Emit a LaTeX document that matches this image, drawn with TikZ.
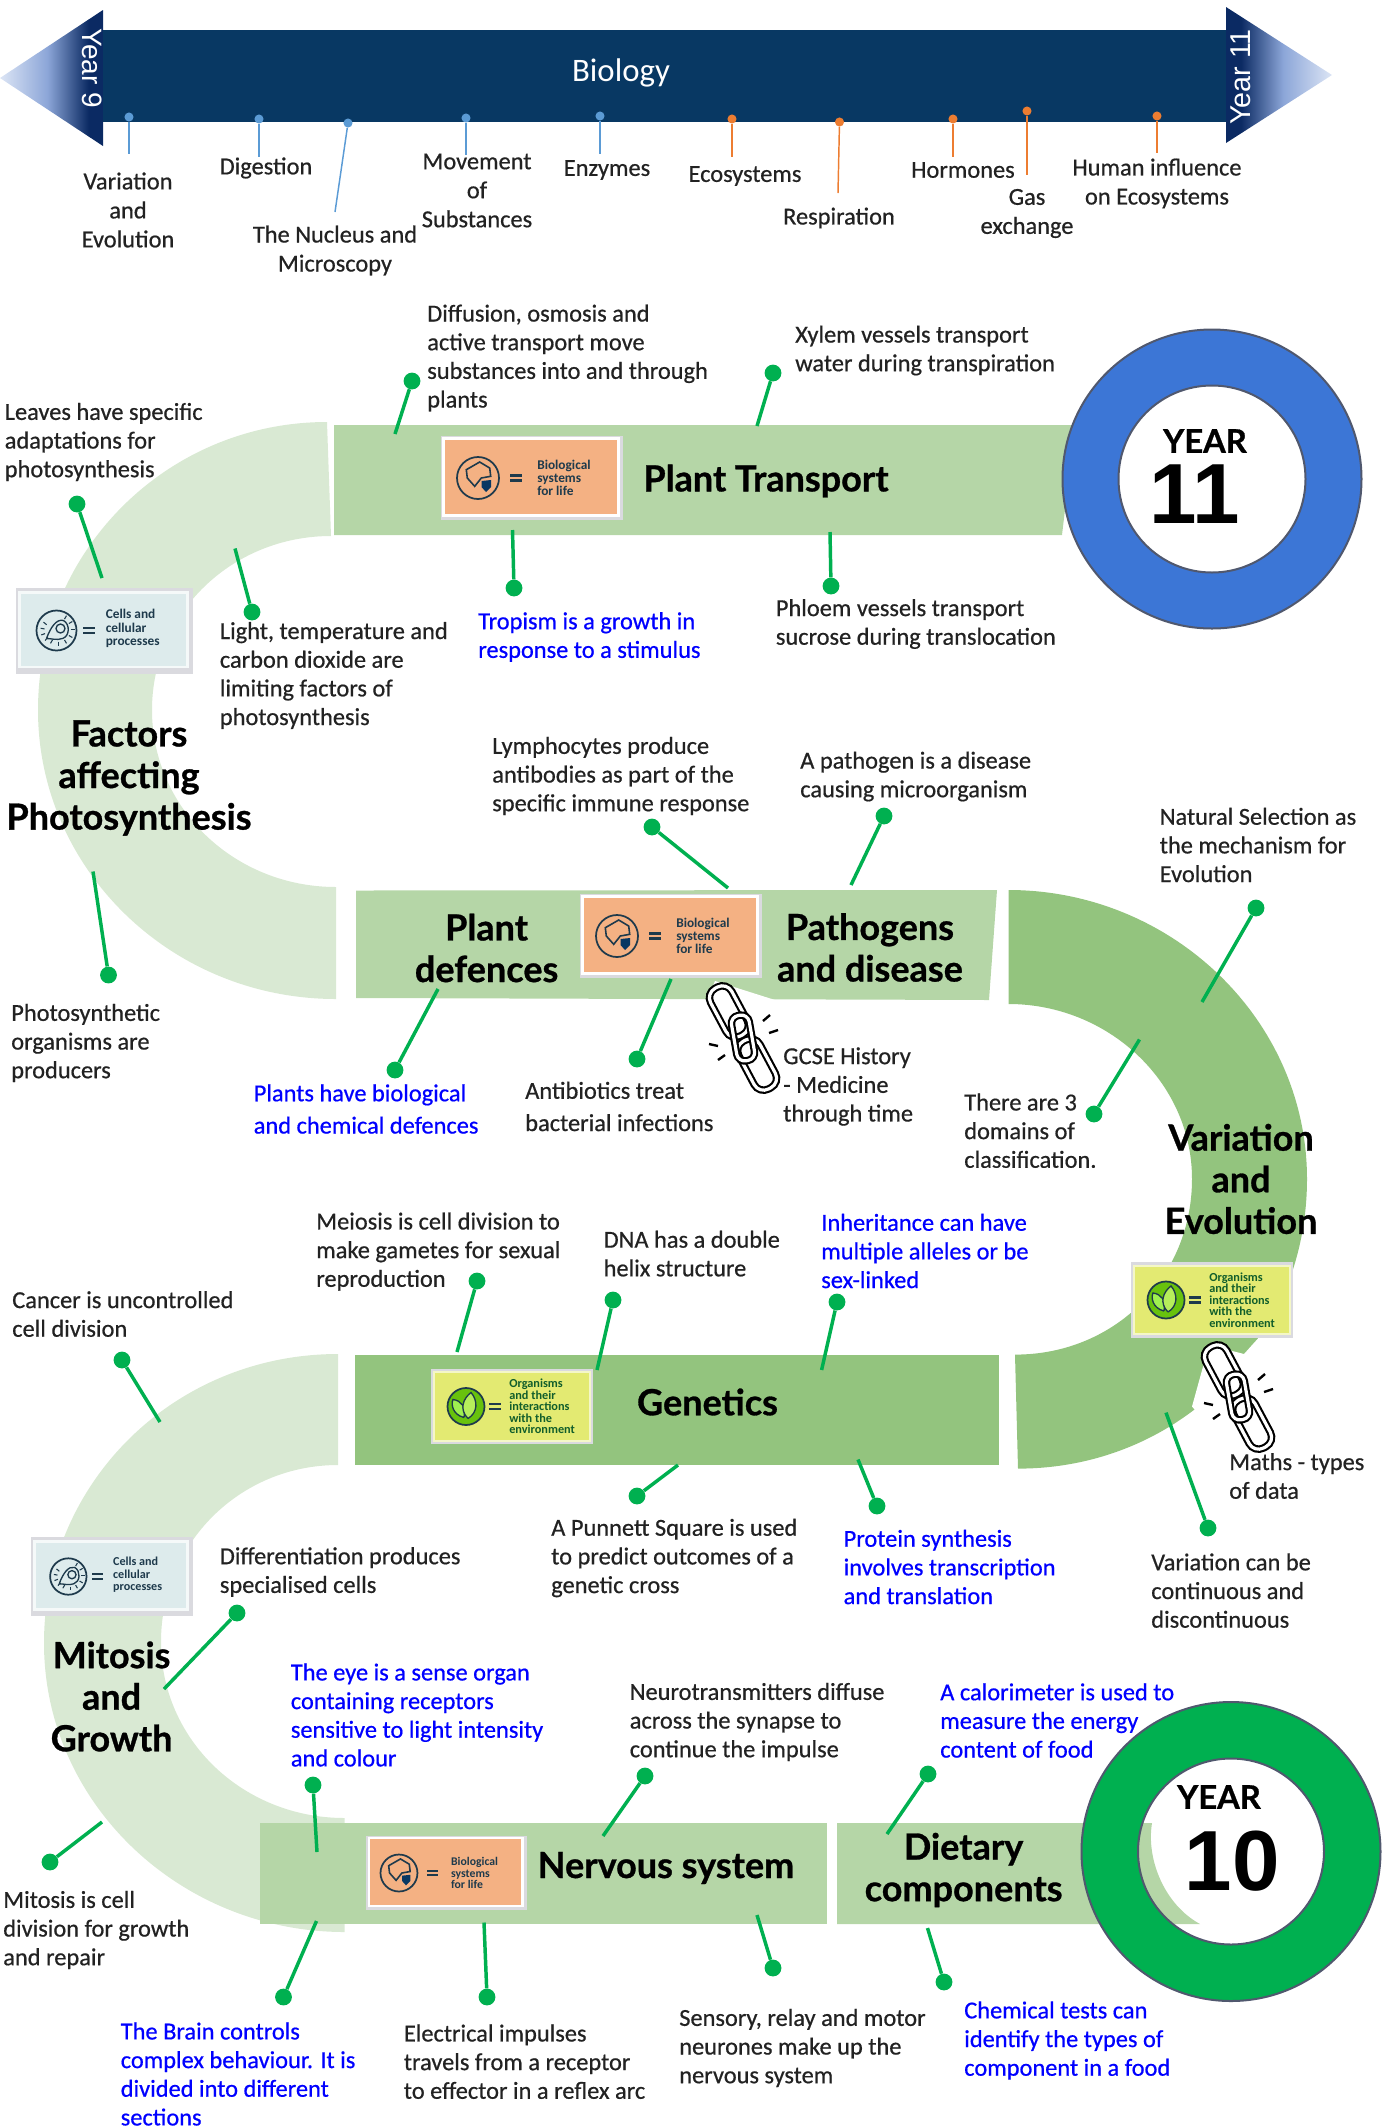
\documentclass[tikz,border=0pt]{standalone}
\usepackage{fontspec}
\setmainfont{Carlito}
\newfontfamily\semi{Carlito}[FakeBold=0.6]
\newfontfamily\headf{Lato Bold}[FakeBold=0.8]
\newfontfamily\arialf{Liberation Sans}
\newfontfamily\arialb{Liberation Sans Bold}
\usetikzlibrary{shapes.geometric}
\definecolor{navy}{HTML}{083863}
\definecolor{darkend}{HTML}{0B2A63}
\definecolor{pale}{HTML}{D9E9D3}
\definecolor{mid}{HTML}{B5D6A7}
\definecolor{deep}{HTML}{93C47E}
\definecolor{gcol}{HTML}{00B050}
\definecolor{bpin}{HTML}{5B9BD5}
\definecolor{opin}{HTML}{ED7D31}
\definecolor{ink}{HTML}{222222}
\definecolor{bluet}{HTML}{0000FF}
\definecolor{ringb}{HTML}{3C76D6}
\definecolor{ringl}{HTML}{50586E}
\definecolor{iconc}{HTML}{1E3A4C}
\definecolor{tagor}{HTML}{F4B183}
\definecolor{tagce}{HTML}{DDEBEC}
\definecolor{tagye}{HTML}{E3EA72}
\definecolor{tagedge}{HTML}{DADADF}
\definecolor{tipc}{HTML}{DCE5F5}
\definecolor{midc}{HTML}{8CA6D8}
\pgfdeclarehorizontalshading{arrL}{100bp}{color(0bp)=(tipc);color(25bp)=(tipc);color(48bp)=(midc);color(68bp)=(darkend);color(100bp)=(darkend)}
\pgfdeclarehorizontalshading{arrR}{100bp}{color(0bp)=(darkend);color(32bp)=(darkend);color(52bp)=(midc);color(75bp)=(tipc);color(100bp)=(tipc)}
\tikzset{
 lbl/.style={font=\semi\fontsize{18.3}{21.5}\selectfont,text=ink,align=left,inner sep=0pt,anchor=west},
 blbl/.style={lbl,text=bluet},
 tl/.style={font=\semi\fontsize{18.3}{21.75}\selectfont,text=ink,align=center,inner sep=0pt,anchor=center},
 head/.style={font=\headf\fontsize{27}{31.2}\selectfont,text=black,align=center,inner sep=0pt},
 gdot/.style={circle,fill=gcol,draw=none,minimum size=12.6pt,inner sep=0pt},
 gline/.style={draw=gcol,line width=2.6pt},
 pindot/.style={circle,fill=#1,draw=none,minimum size=6.8pt,inner sep=0pt},
 pinline/.style={draw=#1,line width=1.1pt},
 tagtxt/.style={font=\bfseries\fontsize{#1}{#1}\selectfont,align=left,inner sep=0pt,anchor=west},
 ring/.style={draw=ringl,line width=1.5pt,even odd rule},
 link/.style={draw=black,line width=1.6pt,double=white,double distance=2.4pt,rounded corners=#1}
}
\newcommand{\conn}[5]{\node[gdot] (d#1) at (#2,#3) {}; \coordinate (e#1) at (#4,#5); \draw[gline] (d#1) -- (e#1);}
\newcommand{\pin}[6]{\node[pindot=#2] (p#1) at (#3,#4) {}; \coordinate (q#1) at (#5,#6); \draw[pinline=#2] (p#1) -- (q#1);}
\newcommand{\eqs}[1]{\fill[iconc] (#1-6,-3.6) rectangle (#1+6,-1.2); \fill[iconc] (#1-6,1.2) rectangle (#1+6,3.6);}
\newcommand{\biotag}[4]{\begin{scope}[shift={(#2,#3)},scale=#4,transform shape]
 \node[fill=tagedge,draw=none,minimum width=137pt,minimum height=63.5pt,inner sep=0pt] (#1o) at (0,0) {};
 \node[fill=white,draw=none,minimum width=133pt,minimum height=60pt,inner sep=0pt] (#1w) at (-1,-1) {};
 \node[fill=tagor,draw=none,minimum width=129pt,minimum height=56pt,inner sep=0pt] (#1i) at (-1,-1) {};
 \begin{scope}[shift={(-54,0)}]
 \draw[iconc,line width=1.3pt] (0,0) circle[radius=21];
 \draw[iconc,line width=1.2pt] (1.7,-16)--(11.7,-10)--(12.7,-1.7)--(3.3,0)--(-3.3,8.3)--(-10.7,0)--(-11.7,-8.3)--cycle;
 \fill[navy] (3.5,3)--(13,2)--(13,9)--(8,14)--(3.5,9)--cycle;
 \end{scope}
 \eqs{-16}
 \node[tagtxt=10,text=iconc] (#1t) at (5,0) {Biological\\systems\\for life};
 \end{scope}}
\newcommand{\celltag}[4]{\begin{scope}[shift={(#2,#3)},scale=#4,transform shape]
 \node[fill=tagedge,draw=none,minimum width=133pt,minimum height=64.5pt,inner sep=0pt] (#1o) at (0,0) {};
 \node[fill=white!70!tagce,draw=none,minimum width=128pt,minimum height=58pt,inner sep=0pt] (#1w) at (-1,-1) {};
 \node[fill=tagce,draw=none,minimum width=124pt,minimum height=54pt,inner sep=0pt] (#1i) at (-1,-1) {};
 \begin{scope}[shift={(-48,0)}]
 \draw[iconc,line width=1.3pt] (0,0) circle[radius=20];
 \draw[iconc,line width=1pt] (-10,8) .. controls (-6,-3) and (0,-12) .. (7,-10) .. controls (14,-6) and (13,6) .. (6,8) .. controls (0,10) and (-5,8) .. (-10,8);
 \draw[iconc,line width=1pt] (4,-2) circle[radius=4.5];
 \foreach \a in {-60,-30,...,120}{\draw[iconc,line width=.8pt] ($(2,-1)+(\a:12)$) -- ($(2,-1)+(\a:16)$);}
 \foreach \a in {130,160,190,220}{\draw[iconc,line width=.8pt] ($(-3,0)+(\a:9)$) -- ($(-3,0)+(\a:13)$);}
 \end{scope}
 \eqs{-16}
 \node[tagtxt=10,text=iconc] (#1t) at (1,-2) {Cells and\\cellular\\processes};
 \end{scope}}
\newcommand{\orgtag}[4]{\begin{scope}[shift={(#2,#3)},scale=#4,transform shape]
 \node[fill=tagedge,draw=none,minimum width=121.5pt,minimum height=56.5pt,inner sep=0pt] (#1o) at (0,0) {};
 \node[fill=white!60!tagye,draw=none,minimum width=118pt,minimum height=53pt,inner sep=0pt] (#1w) at (0,0) {};
 \node[fill=tagye,draw=none,minimum width=115pt,minimum height=50pt,inner sep=0pt] (#1i) at (0,0) {};
 \begin{scope}[shift={(-46,0)}]
 \draw[iconc,fill=green!50!yellow!75!black!95,line width=1.3pt] (0,0) circle[radius=18.5];
 \draw[iconc,fill=tagye!70!green,line width=1pt] (-2,11) .. controls (-14,8) and (-15,-3) .. (-13,-7) .. controls (-5,-6) and (0,0) .. (-2,11);
 \draw[iconc,fill=tagye!80!green,line width=1pt] (2,12) .. controls (-7,3) and (-3,-8) .. (5,-14) .. controls (12,-6) and (12,6) .. (2,12);
 \end{scope}
 \eqs{-17}
 \node[tagtxt=9.2,text=iconc!70!green!80!black] (#1t) at (-3,0) {\linespread{1}Organisms\\[-.6pt]and their\\[-.6pt]interactions\\[-.6pt]with the\\[-.6pt]environment};
 \end{scope}}
\newcommand{\chainic}[3]{\begin{scope}[shift={(#2,#3)}]
 \begin{scope}[rotate=28]
 \node[draw=none,inner sep=0pt,minimum size=0pt] (#1c) at (0,0) {};
 \draw[link=8pt] (-12,-57) rectangle (12,-3);
 \draw[link=8pt] (-12,3) rectangle (12,57);
 \begin{scope}[rotate=-18]
 \draw[link=6pt] (-9,-23) rectangle (9,23);
 \end{scope}
 \end{scope}
 \foreach \ax/\ay/\bx/\by in {18/-17/25/-23,24/-5/33/-8,-36/6/-27/8,-27/22/-20/17}{
 \draw[black,line width=1.8pt] ($(\ax,\ay)+(2,0)$) -- ($(\bx,\by)+(2,0)$);}
 \end{scope}}
\usetikzlibrary{calc}
\begin{document}
\begin{tikzpicture}[x=0.75pt,y=-0.75pt]
\useasboundingbox (0,0) rectangle (1383,2128);
% timeline
\shade[shading=arrL] (0,78) -- (103,10) -- (103,146) -- cycle;
\shade[shading=arrR] (1332,75) -- (1226,7) -- (1226,143) -- cycle;
\fill[navy] (103,30) rectangle (1226,122);
\node[font=\arialf\fontsize{21}{21}\selectfont,text=white,rotate=-90,inner sep=0pt] (y9) at (92,68) {Year 9};
\node[font=\arialf\fontsize{21.5}{21.5}\selectfont,text=white,rotate=90,inner sep=0pt] (y11) at (1241,77) {Year 11};
\node[font=\fontsize{24.6}{24.6}\selectfont,text=white,inner sep=0pt] (bio) at (621,72.5) {Biology};
\pin{a}{bpin}{129}{117}{129}{154}
\pin{b}{bpin}{259}{119}{259}{157}
\pin{c}{bpin}{348}{123}{335}{212}
\pin{d}{bpin}{466}{118}{466}{155}
\pin{e}{bpin}{600}{116}{600}{154}
\pin{f}{opin}{732}{119}{732}{157}
\pin{g}{opin}{839.5}{122}{838}{193}
\pin{h}{opin}{953}{119}{953}{157}
\pin{i}{opin}{1027}{111}{1027}{175}
\pin{j}{opin}{1157}{116}{1157}{153}
\node[tl] (t1) at (128,210) {Variation\\and\\Evolution};
\node[tl] (t2) at (266,168) {Digestion};
\node[tl] (t3) at (335,250.5) {The Nucleus and\\Microscopy};
\node[tl] (t4) at (477,190.5) {Movement\\of\\Substances};
\node[tl] (t5) at (607,170) {Enzymes};
\node[tl] (t6) at (745,176) {Ecosystems};
\node[tl] (t7) at (839,218) {Respiration};
\node[tl] (t8) at (963,170) {Hormones};
\node[tl] (t9) at (1027,213.5) {Gas\\exchange};
\node[tl] (t10) at (1157,183.5) {Human influence\\on Ecosystems};
% ribbon
\fill[pale] (327,422) .. controls (167,422) and (38,551) .. (38,710) .. controls (38,869) and (171,999) .. (336,999) -- (336,887) .. controls (234,887) and (152,808) .. (152,710) .. controls (152,613) and (232,536) .. (331,536) -- cycle;
\fill[mid] (334,425) -- (1075,425) -- (1062,535) -- (334,535) -- cycle;
\fill[mid] (356,890.5) -- (997,890) -- (989,1000) -- (356,998) -- cycle;
\fill[white] (715,981) -- (775,1000) -- (775,1003) -- (706,1003) -- cycle;
\fill[deep] (1008.6,890) .. controls (1171,890) and (1307,1019) .. (1307,1179) .. controls (1307,1339) and (1181,1468.6) .. (1018,1468.6) -- (1015,1354.6) .. controls (1116,1354.6) and (1192,1276) .. (1192,1179) .. controls (1192,1082) and (1108,1004) .. (1008.6,1004) -- cycle;
\fill[white] (1209,1345) -- (1244,1354) -- (1262,1334) -- (1320,1400) -- (1240,1462) -- (1192,1406.5) -- cycle;
\fill[deep] (355,1354.6) rectangle (999,1465);
\fill[pale] (338,1354) .. controls (174,1354) and (44,1483) .. (44,1643) .. controls (44,1803) and (180,1932) .. (344.6,1932) -- (344.6,1818) .. controls (243,1818) and (161,1740) .. (161,1642) .. controls (161,1543) and (240,1465) .. (338,1465) -- cycle;
\fill[mid] (260,1823) rectangle (827,1924);
\fill[mid] (837,1823) -- (1152,1823) .. controls (1146,1860) and (1165,1905) .. (1200,1924) -- (837,1924) -- cycle;
% rings
\path[fill=ringb,ring] (1212,479) circle[radius=149.5] (1212,479) circle[radius=93.5];
\path[fill=gcol,ring] (1231,1851.5) circle[radius=149.5] (1231,1851.5) circle[radius=93];
\node[font=\headf\fontsize{24.5}{24.5}\selectfont,inner sep=0pt] (yr11) at (1205,441) {YEAR};
\node[font=\arialb\fontsize{64}{64}\selectfont,inner sep=0pt] (n11) at (1195,494) {11};
\node[font=\headf\fontsize{24.5}{24.5}\selectfont,inner sep=0pt] (yr10) at (1219,1797) {YEAR};
\node[font=\arialb\fontsize{64}{64}\selectfont,inner sep=0pt] (n10) at (1232,1861) {10};
% tags
\biotag{tb}{532}{478}{1}
\biotag{tc}{671}{936}{1}
\biotag{td}{446.5}{1873}{0.88}
\celltag{ta}{104.5}{630.5}{1}
\celltag{te}{112}{1576.5}{0.91}
\orgtag{tf}{1212}{1300}{1}
\orgtag{tg}{512}{1406.5}{1}
\chainic{ca}{743}{1038}
\chainic{cb}{1238}{1397}
% connectors
\conn{01}{412}{381}{395}{434}
\conn{02}{773}{373}{757}{426}
\conn{03}{77}{504}{102}{578}
\conn{04}{252}{612}{235}{548.5}
\conn{05}{514}{588}{512.5}{530}
\conn{06}{831}{586}{830}{532}
\conn{07}{108.5}{975}{93}{871.5}
\conn{08}{652}{827}{728}{888}
\conn{09}{884}{816}{851}{885}
\conn{10}{1256}{908}{1202}{1002}
\conn{11}{395}{1070}{438}{989}
\conn{12}{637}{1059}{671}{979}
\conn{13}{1094}{1114}{1139.5}{1039.5}
\conn{14}{477}{1281}{457}{1352}
\conn{15}{613}{1300}{597}{1370}
\conn{16}{837}{1302}{821.6}{1370}
\conn{17}{122}{1360}{160}{1422}
\conn{18}{637}{1496}{678}{1465}
\conn{19}{877}{1506}{858}{1459.5}
\conn{20}{1208}{1528}{1166}{1412.6}
\conn{21}{237}{1613}{164}{1689}
\conn{22}{313}{1785}{317}{1852}
\conn{23}{645}{1776}{603}{1836}
\conn{24}{50}{1862}{102}{1822}
\conn{25}{283.5}{1997}{316.5}{1921}
\conn{26}{487}{1997}{484}{1922.5}
\conn{27}{773}{1968}{757}{1915}
\conn{28}{928}{1774}{887}{1834}
\conn{29}{944}{1982}{927.5}{1928}
% headings
\node[head] (h1) at (766,481) {Plant Transport};
\node[head] (h2) at (129,778) {Factors\\affecting\\Photosynthesis};
\node[head] (h3) at (486.6,948) {Plant\\defences};
\node[head] (h4) at (870,947.5) {Pathogens\\and disease};
\node[head] (h5) at (1241,1179) {Variation\\and\\Evolution};
\node[head] (h6) at (707.5,1402) {Genetics};
\node[head] (h7) at (111.6,1696.5) {Mitosis\\and\\Growth};
\node[head] (h8) at (666,1868) {Nervous system};
\node[head] (h9) at (963.6,1870) {Dietary\\components};
% notes
\node[lbl] (n01) at (427,358) {Diffusion, osmosis and\\active transport move\\substances into and through\\plants};
\node[lbl] (n02) at (795,350.5) {Xylem vessels transport\\water during transpiration};
\node[lbl] (n03) at (4.5,442) {Leaves have specific\\adaptations for\\photosynthesis};
\node[lbl] (n04) at (219.6,675.5) {Light, temperature and\\carbon dioxide are\\limiting factors of\\photosynthesis};
\node[blbl] (n05) at (478,637) {Tropism is a growth in\\response to a stimulus};
\node[lbl] (n06) at (775.6,624) {Phloem vessels transport\\sucrose during translocation};
\node[lbl] (n07) at (492,776) {Lymphocytes produce\\antibodies as part of the\\specific immune response};
\node[lbl] (n08) at (800,776.5) {A pathogen is a disease\\causing microorganism};
\node[lbl] (n09) at (1159.5,845) {Natural Selection as\\the mechanism for\\Evolution};
\node[lbl] (n10) at (11,1043) {Photosynthetic\\organisms are\\producers};
\node[blbl] (n11) at (253.5,1109) {Plants have biological\\[2.7pt]and chemical defences};
\node[lbl] (n12) at (525,1106.5) {Antibiotics treat\\[2.7pt]bacterial infections};
\node[lbl] (n13) at (783,1086.5) {GCSE History\\- Medicine\\through time};
\node[lbl] (n14) at (964,1130.7) {There are 3\\domains of\\classification.};
\node[lbl] (n15) at (316,1251.6) {Meiosis is cell division to\\make gametes for sexual\\reproduction};
\node[lbl] (n16) at (603.4,1253.6) {DNA has a double\\helix structure};
\node[blbl] (n17) at (821,1251) {Inheritance can have\\multiple alleles or be\\sex-linked};
\node[lbl] (n18) at (12,1314) {Cancer is uncontrolled\\cell division};
\node[lbl] (n19) at (1229,1476) {Maths - types\\of data};
\node[lbl] (n20) at (551,1558) {A Punnett Square is used\\to predict outcomes of a\\genetic cross};
\node[blbl] (n21) at (843.4,1567) {Protein synthesis\\involves transcription\\and translation};
\node[lbl] (n22) at (1151,1590.6) {Variation can be\\continuous and\\discontinuous};
\node[lbl] (n23) at (219.6,1572) {Differentiation produces\\specialised cells};
\node[blbl] (n24) at (290.6,1715) {The eye is a sense organ\\containing receptors\\sensitive to light intensity\\and colour};
\node[lbl] (n25) at (629.5,1722) {Neurotransmitters diffuse\\across the synapse to\\continue the impulse};
\node[blbl] (n26) at (940,1720.5) {A calorimeter is used to\\measure the energy\\content of food};
\node[lbl] (n27) at (3,1930) {Mitosis is cell\\division for growth\\and repair};
\node[blbl] (n28) at (120.5,2074) {The Brain controls\\complex behaviour. It is\\divided into different\\sections};
\node[lbl] (n29) at (403.6,2061.7) {Electrical impulses\\travels from a receptor\\to effector in a reflex arc};
\node[lbl] (n30) at (679,2048) {Sensory, relay and motor\\neurones make up the\\nervous system};
\node[blbl] (n31) at (964,2040.5) {Chemical tests can\\identify the types of\\component in a food};
\end{tikzpicture}
\end{document}
